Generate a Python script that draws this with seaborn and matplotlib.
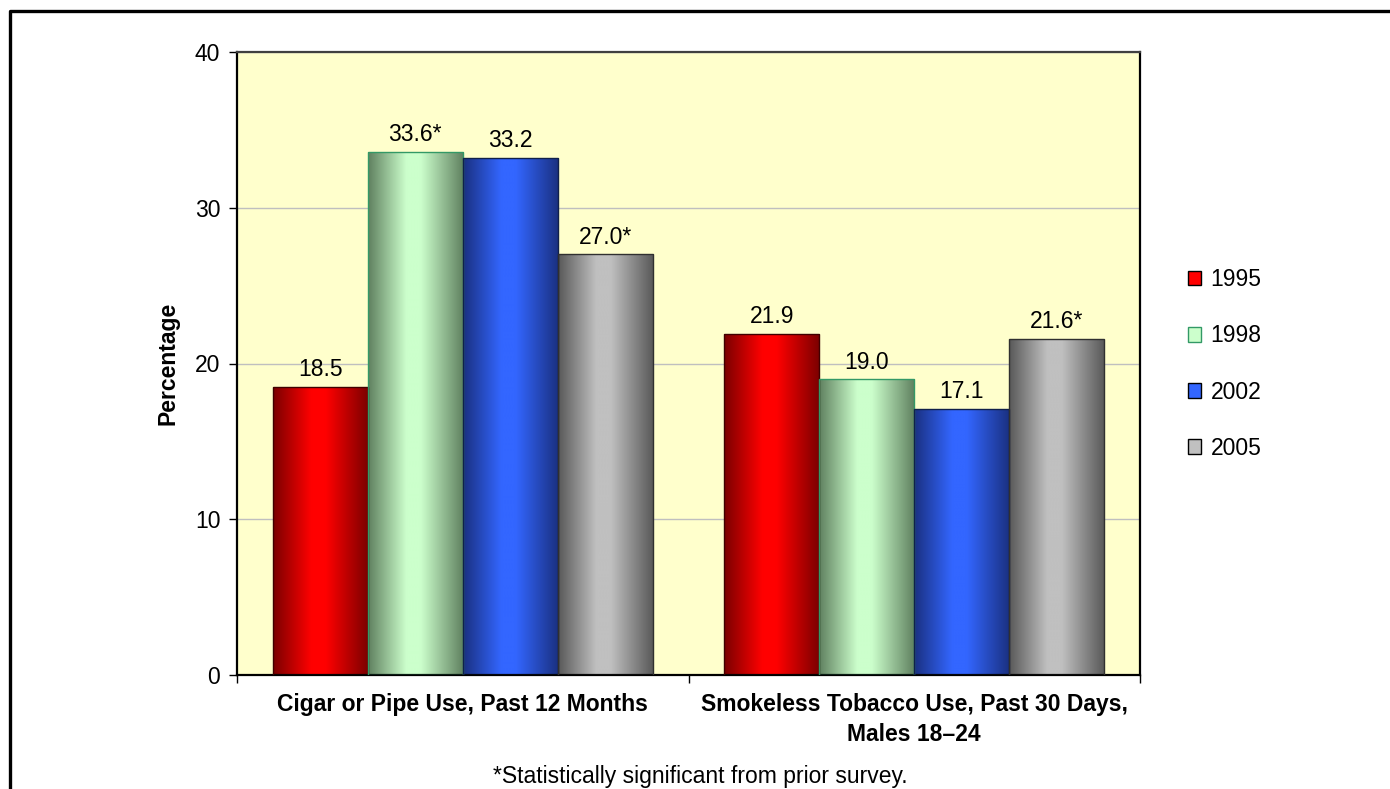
import numpy as np
import pandas as pd
import matplotlib
matplotlib.use("Agg")
import matplotlib.pyplot as plt
from matplotlib.colors import LinearSegmentedColormap
from matplotlib.lines import Line2D
from matplotlib.patches import Patch
import seaborn as sns

# Données
categories = ["Cigar or Pipe Use, Past 12 Months",
              "Smokeless Tobacco Use, Past 30 Days,\nMales 18\u201324"]
years = ["1995", "1998", "2002", "2005"]
val_1995 = [18.5, 21.9]
val_1998 = [33.6, 19.0]
val_2002 = [33.2, 17.1]
val_2005 = [27.0, 21.6]
labels_1995 = ["18.5", "21.9"]
labels_1998 = ["33.6*", "19.0"]
labels_2002 = ["33.2", "17.1"]
labels_2005 = ["27.0*", "21.6*"]
footnote = "*Statistically significant from prior survey."

rows = []
for yr, vals in zip(years, [val_1995, val_1998, val_2002, val_2005]):
    for cat, v in zip(categories, vals):
        rows.append({"cat": cat, "year": yr, "pct": v})
df = pd.DataFrame(rows)
bar_labels = [labels_1995, labels_1998, labels_2002, labels_2005]

# Couleurs (bord sombre, centre clair, contour)
center_cols = ["#FF0000", "#CCFFCC", "#3366FF", "#C0C0C0"]
dark_cols = ["#7A0000", "#5F805F", "#1A3080", "#585858"]
edge_cols = ["#400000", "#339966", "#10204A", "#303030"]

FS = 16.5

sns.set_style("white")
plt.rcParams['font.family'] = ['Liberation Sans', 'DejaVu Sans']
plt.rcParams['text.color'] = 'black'
plt.rcParams['xtick.color'] = 'black'
plt.rcParams['ytick.color'] = 'black'
plt.rcParams['axes.labelcolor'] = 'black'

fig = plt.figure(figsize=(13.9, 7.89), dpi=100)
ax = fig.add_axes([237 / 1390, 1 - 675 / 789, (1140 - 237) / 1390, (675 - 52) / 789])
ax.set_facecolor("#FFFFCC")

sns.barplot(data=df, x="cat", y="pct", hue="year", hue_order=years,
            order=categories, width=0.842, palette=center_cols,
            legend=False, ax=ax, zorder=2)

# Dégradé façon Excel sur chaque barre
grad = np.linspace(0, 1, 256).reshape(1, -1)
for i, cont in enumerate(ax.containers):
    cmap = LinearSegmentedColormap.from_list(
        f"g{i}", [(0, dark_cols[i]), (0.4, center_cols[i]), (0.55, center_cols[i]), (1, dark_cols[i])])
    for j, bar in enumerate(cont):
        x0, y0 = bar.get_x(), bar.get_y()
        w, h = bar.get_width(), bar.get_height()
        im = ax.imshow(grad, cmap=cmap, extent=(x0, x0 + w, y0, y0 + h),
                       aspect="auto", zorder=2.5, interpolation="bicubic")
        im.set_clip_path(bar)
        bar.set_facecolor("none")
        bar.set_edgecolor(edge_cols[i])
        bar.set_linewidth(1.0)
        bar.set_zorder(3)
        ax.annotate(bar_labels[i][j], (x0 + w / 2, y0 + h), xytext=(0, 4),
                    textcoords="offset points", ha="center", va="bottom",
                    fontsize=FS)

ax.set_xlim(-0.5, 1.5)
ax.set_ylim(0, 40)
ax.set_yticks([0, 10, 20, 30, 40])
ax.yaxis.grid(True, color="#BFBFBF", linewidth=1)
ax.set_axisbelow(True)
ax.tick_params(axis="y", direction="out", length=6, width=1, labelsize=FS, left=True, pad=6)

# graduations x aux limites de groupes, étiquettes au centre
ax.set_xticks([-0.5, 0.5, 1.5])
ax.set_xticklabels(["", "", ""])
ax.set_xticks([0, 1], minor=True)
ax.set_xticklabels(categories, minor=True, fontsize=FS, fontweight="bold")
for lab in ax.get_xticklabels(minor=True):
    lab.set_linespacing(1.4)
ax.tick_params(axis="x", which="major", direction="out", length=6, width=1, bottom=True)
ax.tick_params(axis="x", which="minor", length=0, pad=13)

ax.set_xlabel("")
ax.set_ylabel("Percentage", fontsize=FS, fontweight="bold", labelpad=11)

for s in ax.spines.values():
    s.set_visible(True)
    s.set_color("black")
    s.set_linewidth(1.6)
ax.spines["top"].set_color("#404040")

# Légende
handles = [Patch(facecolor=center_cols[i], edgecolor=edge_cols[i] if i == 1 else "black",
                 linewidth=1) for i in range(4)]
fig.legend(handles, years, loc="center left", bbox_to_anchor=(1167 / 1390, 1 - 364 / 789),
           frameon=False, fontsize=FS, handlelength=0.6, handleheight=0.6,
           handletextpad=0.4, labelspacing=1.45)

fig.text(700 / 1390, 1 - 777 / 789, footnote, ha="center", va="center", fontsize=FS)

# cadre extérieur
fig.add_artist(Line2D([9.5 / 1390, 9.5 / 1390, 1.0], [0.0, 1 - 10.5 / 789, 1 - 10.5 / 789],
                      color="black", linewidth=2.4, transform=fig.transFigure))

fig.savefig("out.png", dpi=100)
